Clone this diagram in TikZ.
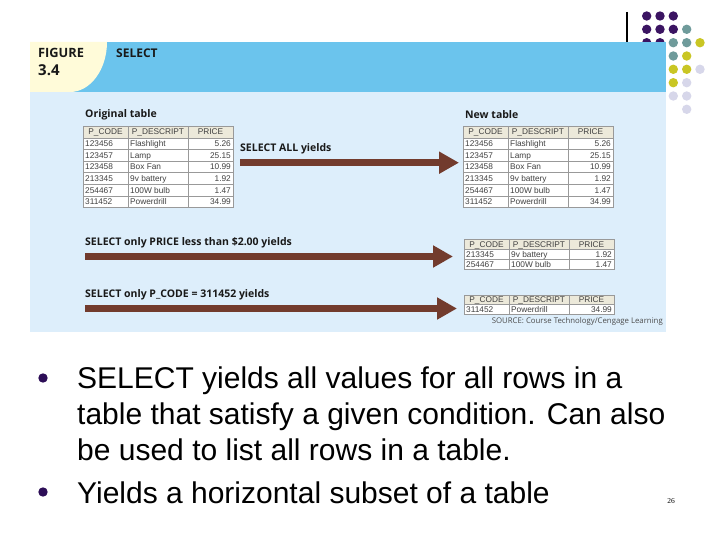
\documentclass[tikz,border=0pt]{standalone}
\usepackage{fontspec}
\setmainfont{Liberation Sans}
\newfontfamily\figfont{Open Sans}
\newfontfamily\pagefont{Liberation Serif}
\usetikzlibrary{arrows.meta}

\newlength{\du}
\setlength{\du}{10pt}

\definecolor{hdrblue}{rgb}{0.420, 0.769, 0.929}
\definecolor{bodyblue}{rgb}{0.867, 0.933, 0.984}
\definecolor{figcream}{rgb}{1.000, 0.984, 0.851}
\definecolor{arrowbrown}{rgb}{0.447, 0.231, 0.176}
\definecolor{cellgray}{rgb}{0.925, 0.914, 0.855}
\definecolor{gridgray}{rgb}{0.600, 0.600, 0.600}
\definecolor{dotpurple}{rgb}{0.231, 0.078, 0.384}
\definecolor{bulletpurple}{rgb}{0.176, 0.055, 0.341}
\definecolor{dotteal}{rgb}{0.435, 0.608, 0.608}
\definecolor{dotyellow}{rgb}{0.788, 0.776, 0.141}
\definecolor{dotlilac}{rgb}{0.843, 0.843, 0.918}

\tikzset{
  headcell/.style={fill=cellgray, draw=gridgray, line width=0.06\du},
  datacell/.style={fill=white, draw=gridgray, line width=0.06\du},
  celltext/.style={font=\fontsize{8.3}{9}\selectfont, text=black!75, inner sep=0pt},
  figlabel/.style={font=\figfont\bfseries\fontsize{10.5}{12}\selectfont, text=black!90, anchor=west, inner sep=0pt},
  bullettext/.style={font=\fontsize{30}{36}\selectfont, anchor=base west, inner sep=0pt},
  yieldarrow/.style={draw=arrowbrown, line width=0.7\du, -{Triangle[width=21pt,length=20pt]}},
}

% header row: #1 name, #2 left, #3 top, #4 height
\newcommand{\tabhead}[4]{%
\pgfmathsetmacro{\colb}{#2+4.5}%
\pgfmathsetmacro{\colc}{#2+10.5}%
\pgfmathsetmacro{\cold}{#2+15}%
\pgfmathsetmacro{\rowb}{#3+#4}%
\pgfmathsetmacro{\rowm}{#3+#4/2+0.3}%
\pgfmathsetmacro{\midb}{#2+2.25}%
\pgfmathsetmacro{\midc}{#2+7.5}%
\pgfmathsetmacro{\midd}{#2+12.75}%
\filldraw[headcell] (#2\du,#3\du) rectangle (\colb\du,\rowb\du);
\filldraw[headcell] (\colb\du,#3\du) rectangle (\colc\du,\rowb\du);
\filldraw[headcell] (\colc\du,#3\du) rectangle (\cold\du,\rowb\du);
\node[celltext, anchor=base] (#1code) at (\midb\du,\rowm\du) {P\_CODE};
\node[celltext, anchor=base] (#1desc) at (\midc\du,\rowm\du) {P\_DESCRIPT};
\node[celltext, anchor=base] (#1price) at (\midd\du,\rowm\du) {PRICE};
}

% data row: #1 name, #2 left, #3 top, #4 height, #5 code, #6 descript, #7 price
\newcommand{\tabrow}[7]{%
\pgfmathsetmacro{\colb}{#2+4.5}%
\pgfmathsetmacro{\colc}{#2+10.5}%
\pgfmathsetmacro{\cold}{#2+15}%
\pgfmathsetmacro{\rowb}{#3+#4}%
\pgfmathsetmacro{\rowm}{#3+#4/2+0.3}%
\pgfmathsetmacro{\txa}{#2+0.2}%
\pgfmathsetmacro{\txb}{#2+4.7}%
\pgfmathsetmacro{\txc}{#2+14.8}%
\filldraw[datacell] (#2\du,#3\du) rectangle (\colb\du,\rowb\du);
\filldraw[datacell] (\colb\du,#3\du) rectangle (\colc\du,\rowb\du);
\filldraw[datacell] (\colc\du,#3\du) rectangle (\cold\du,\rowb\du);
\node[celltext, anchor=base west] (#1code) at (\txa\du,\rowm\du) {#5};
\node[celltext, anchor=base west] (#1desc) at (\txb\du,\rowm\du) {#6};
\node[celltext, anchor=base east] (#1price) at (\txc\du,\rowm\du) {#7};
}

\begin{document}
\begin{tikzpicture}
\pgftransformxscale{1.000000}
\pgftransformyscale{-1.000000}
\useasboundingbox (0.000000\du,0.000000\du) rectangle (72.000000\du,54.000000\du);
\fill[white] (0.000000\du,0.000000\du) rectangle (72.000000\du,54.000000\du);
% corner dots
\fill[dotpurple] (64.670000\du,1.600000\du) circle (0.470000\du);
\fill[dotpurple] (66.000000\du,1.600000\du) circle (0.470000\du);
\fill[dotpurple] (67.330000\du,1.600000\du) circle (0.470000\du);
\fill[dotpurple] (64.670000\du,2.930000\du) circle (0.470000\du);
\fill[dotpurple] (66.000000\du,2.930000\du) circle (0.470000\du);
\fill[dotpurple] (67.330000\du,2.930000\du) circle (0.470000\du);
\fill[dotteal] (68.670000\du,2.930000\du) circle (0.470000\du);
\fill[dotpurple] (64.670000\du,4.270000\du) circle (0.470000\du);
\fill[dotpurple] (66.000000\du,4.270000\du) circle (0.470000\du);
\fill[dotteal] (67.330000\du,4.270000\du) circle (0.470000\du);
\fill[dotteal] (68.670000\du,4.270000\du) circle (0.470000\du);
\fill[dotyellow] (70.000000\du,4.270000\du) circle (0.470000\du);
\fill[dotteal] (67.330000\du,5.600000\du) circle (0.470000\du);
\fill[dotyellow] (68.670000\du,5.600000\du) circle (0.470000\du);
\fill[dotyellow] (67.330000\du,6.930000\du) circle (0.470000\du);
\fill[dotyellow] (68.670000\du,6.930000\du) circle (0.470000\du);
\fill[dotlilac] (70.000000\du,6.930000\du) circle (0.470000\du);
\fill[dotyellow] (67.330000\du,8.270000\du) circle (0.470000\du);
\fill[dotlilac] (68.670000\du,8.270000\du) circle (0.470000\du);
\fill[dotlilac] (67.330000\du,9.600000\du) circle (0.470000\du);
\fill[dotlilac] (68.670000\du,9.600000\du) circle (0.470000\du);
\fill[dotlilac] (68.670000\du,10.930000\du) circle (0.470000\du);
\draw[line width=0.120000\du] (62.700000\du,1.200000\du)--(62.700000\du,4.200000\du);
% figure panel
\fill[hdrblue] (3.000000\du,4.200000\du) rectangle (66.600000\du,9.200000\du);
\fill[bodyblue] (3.000000\du,9.200000\du) rectangle (66.600000\du,33.200000\du);
\fill[figcream] (3.000000\du,4.200000\du)--(10.700000\du,4.200000\du) .. controls (10.700000\du,6.960000\du) and (9.040000\du,9.200000\du) .. (7.000000\du,9.200000\du)--(3.000000\du,9.200000\du)--cycle;
\node[figlabel, font=\figfont\bfseries\fontsize{12.8}{14}\selectfont] (figword) at (3.800000\du,5.300000\du){FIGURE};
\node[figlabel, font=\figfont\bfseries\fontsize{15}{17}\selectfont] (fignum) at (3.800000\du,7.000000\du){3.4};
\node[figlabel, font=\figfont\bfseries\fontsize{12}{14}\selectfont] (figtitle) at (11.600000\du,5.300000\du){SELECT};
% original table
\node[figlabel] (origlabel) at (8.500000\du,11.500000\du){Original table};
\tabhead{orighd}{8.3}{12.6}{1.2}
\tabrow{origa}{8.3}{13.8}{1.16}{123456}{Flashlight}{5.26}
\tabrow{origb}{8.3}{14.96}{1.16}{123457}{Lamp}{25.15}
\tabrow{origc}{8.3}{16.12}{1.16}{123458}{Box Fan}{10.99}
\tabrow{origd}{8.3}{17.28}{1.16}{213345}{9v battery}{1.92}
\tabrow{orige}{8.3}{18.44}{1.16}{254467}{100W bulb}{1.47}
\tabrow{origf}{8.3}{19.6}{1.16}{311452}{Powerdrill}{34.99}
% new table
\node[figlabel] (newlabel) at (46.500000\du,11.500000\du){New table};
\tabhead{newhd}{46.3}{12.6}{1.2}
\tabrow{newa}{46.3}{13.8}{1.16}{123456}{Flashlight}{5.26}
\tabrow{newb}{46.3}{14.96}{1.16}{123457}{Lamp}{25.15}
\tabrow{newc}{46.3}{16.12}{1.16}{123458}{Box Fan}{10.99}
\tabrow{newd}{46.3}{17.28}{1.16}{213345}{9v battery}{1.92}
\tabrow{newe}{46.3}{18.44}{1.16}{254467}{100W bulb}{1.47}
\tabrow{newf}{46.3}{19.6}{1.16}{311452}{Powerdrill}{34.99}
% price table
\tabhead{pricehd}{46.4}{23.95}{1.0}
\tabrow{pricea}{46.4}{24.95}{1.0}{213345}{9v battery}{1.92}
\tabrow{priceb}{46.4}{25.95}{1.0}{254467}{100W bulb}{1.47}
% code table
\tabhead{codehd}{46.4}{29.5}{0.97}
\tabrow{codea}{46.4}{30.47}{0.98}{311452}{Powerdrill}{34.99}
\node[anchor=east, inner sep=0pt, font=\figfont\fontsize{7.8}{9}\selectfont, text=black!70] (source) at (66.300000\du,32.100000\du){SOURCE: Course Technology/Cengage Learning};
% arrows
\node[figlabel] (alllabel) at (24.000000\du,14.900000\du){SELECT ALL yields};
\coordinate (allfrom) at (24.000000\du,16.270000\du);
\coordinate (allto) at (45.900000\du,16.270000\du);
\draw[yieldarrow] (allfrom)--(allto);
\node[figlabel] (pricelabel) at (8.500000\du,24.250000\du){SELECT only PRICE less than \$2.00 yields};
\coordinate (pricefrom) at (8.500000\du,25.650000\du);
\coordinate (priceto) at (45.300000\du,25.650000\du);
\draw[yieldarrow] (pricefrom)--(priceto);
\node[figlabel] (codelabel) at (8.500000\du,29.500000\du){SELECT only P\_CODE = 311452 yields};
\coordinate (codefrom) at (8.500000\du,30.850000\du);
\coordinate (codeto) at (45.700000\du,30.850000\du);
\draw[yieldarrow] (codefrom)--(codeto);
% bullets
\fill[bulletpurple] (4.300000\du,37.800000\du) circle (0.470000\du);
\node[bullettext] (selectline) at (7.700000\du,38.800000\du){SELECT yields all values for all rows in a};
\node[bullettext] (tableline) at (7.700000\du,42.400000\du){table that satisfy a given condition. Can also};
\node[bullettext] (listline) at (7.700000\du,46.000000\du){be used to list all rows in a table.};
\fill[bulletpurple] (4.300000\du,49.200000\du) circle (0.470000\du);
\node[bullettext] (yieldline) at (7.700000\du,50.300000\du){Yields a horizontal subset of a table};
\node[font=\pagefont\fontsize{7.5}{8}\selectfont, inner sep=0pt] (pagenum) at (67.100000\du,50.100000\du){26};
\end{tikzpicture}
\end{document}
